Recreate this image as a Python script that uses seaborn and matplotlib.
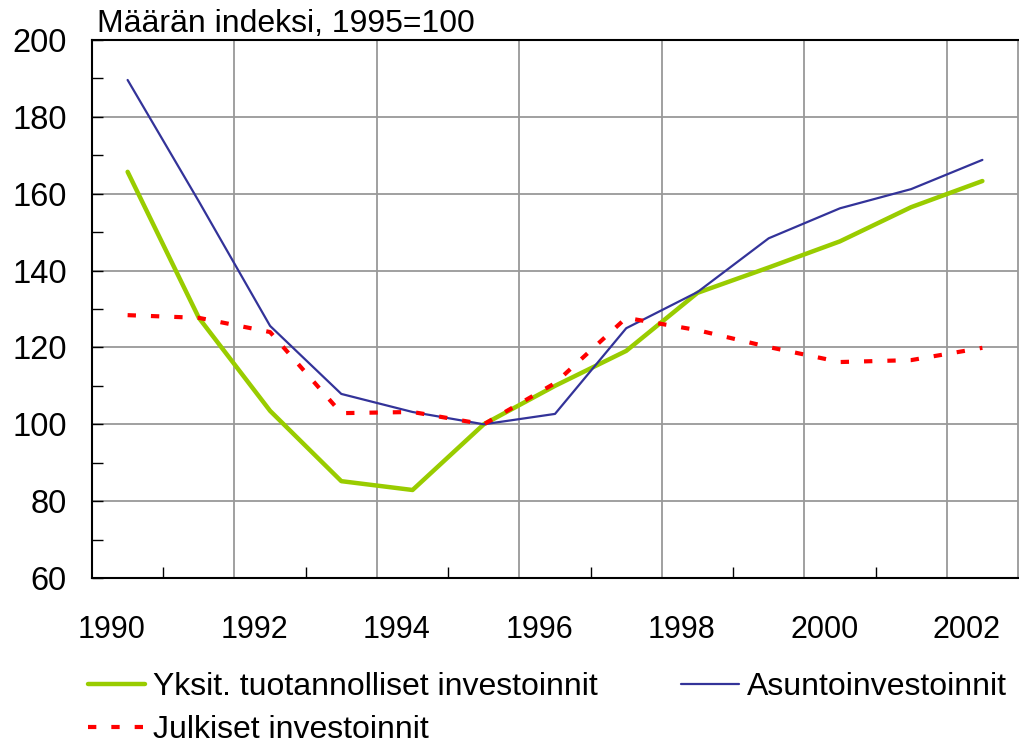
import matplotlib
matplotlib.use("Agg")
import matplotlib.pyplot as plt
import matplotlib.transforms as mtransforms
import seaborn as sns
import pandas as pd
import numpy as np

# ---- data ----
years = [1990.5, 1991.5, 1992.5, 1993.5, 1994.5, 1995.5, 1996.5,
         1997.5, 1998.5, 1999.5, 2000.5, 2001.5, 2002.5]
yksit = [165.7, 127.7, 103.5, 85.2, 82.9, 100.0, 110.0,
         119.1, 134.2, 140.8, 147.6, 156.5, 163.3]
asunto = [189.6, 158.0, 125.6, 107.9, 103.2, 100.0, 102.7,
          125.0, 134.4, 148.4, 156.2, 161.2, 168.8]
julkiset = [128.4, 127.7, 124.0, 102.9, 103.2, 100.0, 110.7,
            127.7, 124.5, 120.1, 116.2, 116.7, 119.9]
names = ["Yksit. tuotannolliset investoinnit", "Asuntoinvestoinnit",
         "Julkiset investoinnit"]
tick_years = [1990, 1992, 1994, 1996, 1998, 2000, 2002]
title_text = "Määrän indeksi, 1995=100"

colors = {"y": "#99CC00", "a": "#333399", "j": "#FF0000"}

sns.set_theme(style="white")
plt.rcParams["font.family"] = ["Liberation Sans", "DejaVu Sans"]
plt.rcParams["text.color"] = "black"
plt.rcParams["xtick.color"] = "black"
plt.rcParams["ytick.color"] = "black"

fig = plt.figure(figsize=(10.2, 7.47), dpi=100)
ax = fig.add_axes([92 / 1020, 1 - 578 / 747, (1018 - 92) / 1020, (578 - 40) / 747])

df_y = pd.DataFrame({"x": years, "v": yksit})
df_a = pd.DataFrame({"x": years, "v": asunto})
df_j = pd.DataFrame({"x": years, "v": julkiset})

sns.lineplot(data=df_y, x="x", y="v", ax=ax, color=colors["y"], linewidth=3.2,
             label=names[0], zorder=3)
sns.lineplot(data=df_a, x="x", y="v", ax=ax, color=colors["a"], linewidth=1.6,
             label=names[1], zorder=4)
sns.lineplot(data=df_j, x="x", y="v", ax=ax, color=colors["j"], linewidth=3.0,
             linestyle=(0, (2.0, 3.6)), label=names[2], zorder=5)

ax.set_xlim(1990, 2003)
ax.set_ylim(60, 200)
ax.set_xlabel("")
ax.set_ylabel("")

ax.set_xticks(tick_years)
ax.set_xticklabels([str(t) for t in tick_years])
ax.set_xticks(np.arange(1990, 2003), minor=True)
ax.set_yticks(np.arange(60, 201, 20))
ax.set_yticks(np.arange(60, 201, 10), minor=True)

ax.tick_params(axis="x", which="both", direction="in", length=8, width=1,
               color="black", labelcolor="black", labelsize=22, pad=27, bottom=True)
ax.tick_params(axis="y", which="both", direction="in", length=8, width=1,
               color="black", labelcolor="black", labelsize=23.5, pad=18, left=True)
ax.tick_params(axis="x", which="major", length=0)

offset = mtransforms.ScaledTranslation(20 / 100, 0, fig.dpi_scale_trans)
for lab in ax.get_xticklabels():
    lab.set_transform(lab.get_transform() + offset)

ax.grid(True, which="major", color="#999999", linewidth=1.3)
ax.set_axisbelow(True)

for s in ["left", "bottom", "top"]:
    ax.spines[s].set_visible(True)
    ax.spines[s].set_color("black")
    ax.spines[s].set_linewidth(1.5)
ax.spines["right"].set_visible(True)
ax.spines["right"].set_color("#999999")
ax.spines["right"].set_linewidth(1.3)

fig.text(97 / 1020, 1 - 32 / 747, title_text, fontsize=23, ha="left",
         va="baseline", color="black")

handles, labels = ax.get_legend_handles_labels()
ax.get_legend().remove()
order = [0, 2, 1]
fig.legend([handles[i] for i in order], [labels[i] for i in order],
           loc="upper left", bbox_to_anchor=(88 / 1020, 1 - 672 / 747),
           ncol=2, frameon=False, fontsize=23, handlelength=1.8,
           handletextpad=0.25, columnspacing=2.6, labelspacing=0.42,
           borderaxespad=0, borderpad=0, labelcolor="black")

fig.savefig("out.png", dpi=100)
